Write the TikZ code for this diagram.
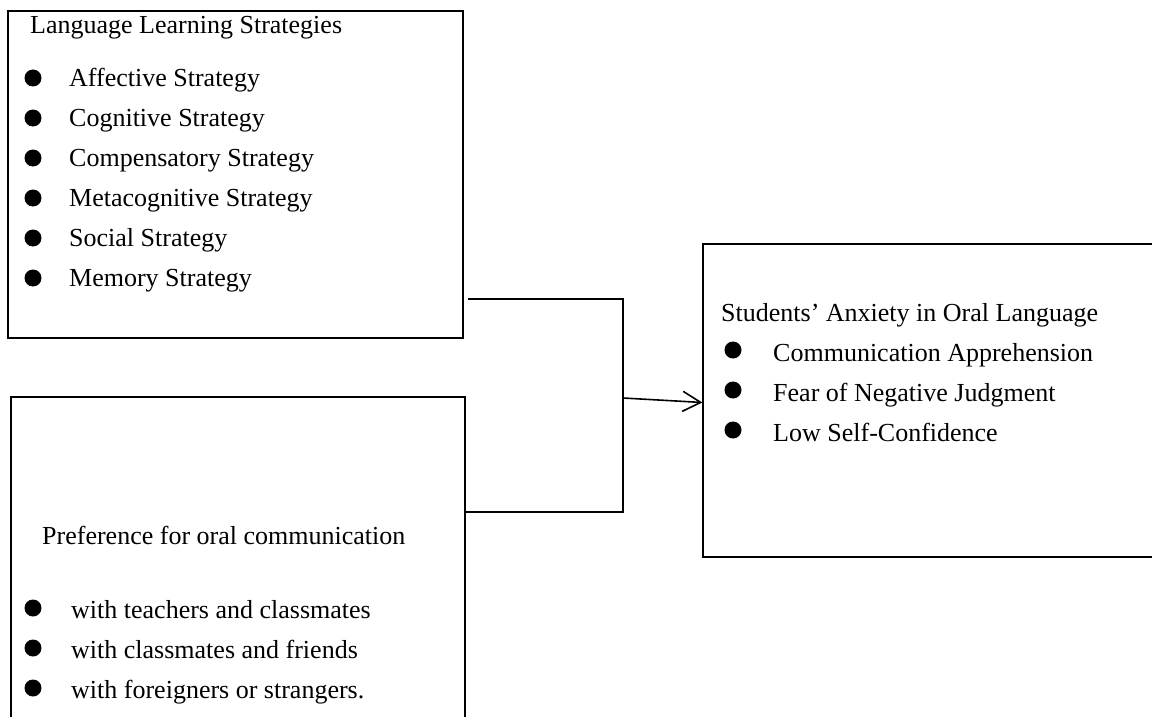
\documentclass[tikz,border=0pt]{standalone}
\usepackage{fontspec}
\setmainfont{Liberation Serif}
\usepackage{tikz}
\usetikzlibrary{positioning,calc,arrows.meta}

\tikzset{
  framebox/.style={rectangle,draw,line width=1.3pt,inner sep=0pt},
  dot/.style={circle,fill=black,inner sep=0pt,minimum size=17pt},
  itemtext/.style={anchor=base west,inner sep=0pt,font=\fontsize{26}{30}\selectfont},
  link/.style={line width=2.2pt}
}

\begin{document}
\begin{tikzpicture}[x=1pt,y=-1pt]
\useasboundingbox (0,0) rectangle (1152,717);
\clip (0,0) rectangle (1152,717);
% boxes
\node (lls) [framebox,minimum width=455pt,minimum height=327pt] at (235.5,174.5) {};
\node (pref) [framebox,minimum width=454pt,minimum height=360pt] at (238,577) {};
\node (anx) [framebox,minimum width=470pt,minimum height=313pt] at (938,400.5) {};
% language learning strategies
\node (llstitle) [itemtext] at (30,34) {Language Learning Strategies};
\foreach \txt [count=\i] in {Affective Strategy,Cognitive Strategy,Compensatory Strategy,Metacognitive Strategy,Social Strategy,Memory Strategy}{
  \node (llsdot\i) [dot] at (33,38+40*\i) {};
  \node (llsitem\i) [itemtext] at (69,46+40*\i) {\txt};
}
% preference for oral communication
\node (preftitle) [itemtext] at (42,544) {Preference for oral communication};
\foreach \txt [count=\i] in {with teachers and classmates,with classmates and friends,with foreigners or strangers.}{
  \node (prefdot\i) [dot] at (33,568+40*\i) {};
  \node (prefitem\i) [itemtext] at (71,578+40*\i) {\txt};
}
% students' anxiety
\node (anxtitle) [itemtext] at (721,321) {Students’ Anxiety in Oral Language};
\foreach \txt [count=\i] in {Communication Apprehension,Fear of Negative Judgment,Low Self-Confidence}{
  \node (anxdot\i) [dot] at (733,310+40*\i) {};
  \node (anxitem\i) [itemtext] at (773,321+40*\i) {\txt};
}
% connectors
\coordinate (jtop) at (623,299);
\coordinate (jbot) at (623,512);
\coordinate (jmid) at (623,398);
\draw[link] ([xshift=4pt]lls.east |- jtop) -- (jtop);
\draw[link] (pref.east |- jbot) -- (jbot);
\draw[link] ([yshift=1pt]jtop) -- ([yshift=-1pt]jbot);
\draw[line width=1.6pt,-{Straight Barb[length=18pt,width=20pt,line width=1.6pt]}] (jmid) -- ([yshift=-2pt]anx.west);
\end{tikzpicture}
\end{document}
